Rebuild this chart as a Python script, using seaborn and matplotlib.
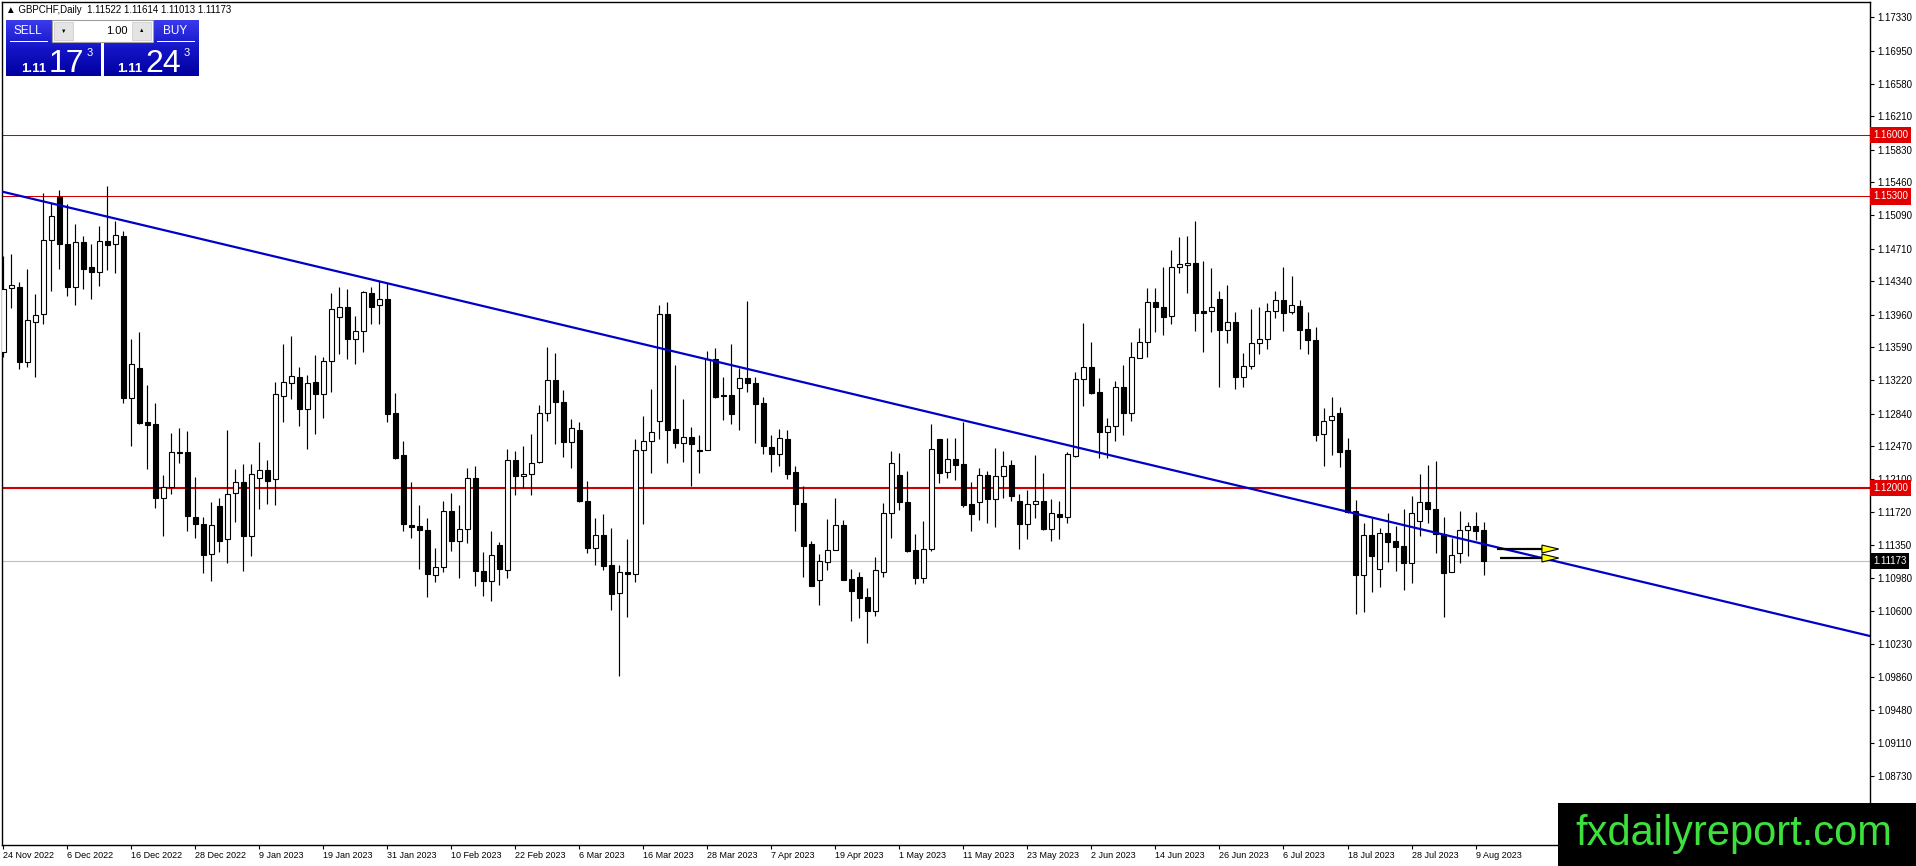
import numpy as np
import matplotlib
matplotlib.use("Agg")
import matplotlib.pyplot as plt
import seaborn as sns
from matplotlib.patches import Rectangle, Polygon
from matplotlib.colors import LinearSegmentedColormap

# GBPCHF daily, 24 Nov 2022 .. 10 Aug 2023
opens = [1.13534, 1.14259, 1.14274, 1.13428, 1.13873, 1.13964, 1.14803, 1.15294, 1.14758, 1.14278,
         1.14784, 1.14500, 1.14448, 1.14796, 1.14758, 1.14852, 1.13012, 1.13352, 1.12744, 1.12722,
         1.11887, 1.12012, 1.12400, 1.12400, 1.11672, 1.11585, 1.11245, 1.11792, 1.11415, 1.11936,
         1.12061, 1.11456, 1.12113, 1.12196, 1.12094, 1.13043, 1.13190, 1.13254, 1.12895, 1.13194,
         1.13058, 1.13432, 1.13930, 1.14043, 1.13681, 1.13775, 1.14202, 1.14066, 1.14134, 1.12842,
         1.12367, 1.11573, 1.11562, 1.11520, 1.11010, 1.11097, 1.11732, 1.11392, 1.11528, 1.12106,
         1.11052, 1.10939, 1.11347, 1.11067, 1.12310, 1.12128, 1.12151, 1.12295, 1.12842, 1.13216,
         1.12971, 1.12514, 1.12653, 1.11853, 1.11313, 1.11460, 1.11124, 1.10803, 1.11041, 1.11019,
         1.12423, 1.12525, 1.12752, 1.13964, 1.12661, 1.12502, 1.12570, 1.12423, 1.12423, 1.13462,
         1.13046, 1.13046, 1.13126, 1.13239, 1.13183, 1.12956, 1.12461, 1.12378, 1.12552, 1.12174,
         1.11826, 1.11361, 1.10950, 1.11161, 1.11290, 1.11573, 1.10961, 1.10988, 1.10757, 1.10606,
         1.11048, 1.11709, 1.12144, 1.11838, 1.11290, 1.10980, 1.11301, 1.12552, 1.12174, 1.12325,
         1.12269, 1.11815, 1.11841, 1.12144, 1.11875, 1.12128, 1.12257, 1.11849, 1.11592, 1.11811,
         1.11845, 1.11535, 1.11698, 1.11671, 1.12363, 1.13228, 1.13364, 1.13080, 1.12635, 1.12695,
         1.13137, 1.12850, 1.13466, 1.13647, 1.14100, 1.14044, 1.13949, 1.14497, 1.14519, 1.14546,
         1.13998, 1.13998, 1.14138, 1.13790, 1.13873, 1.13258, 1.13379, 1.13636, 1.13681, 1.13998,
         1.14127, 1.13987, 1.14059, 1.13798, 1.13673, 1.12604, 1.12763, 1.12850, 1.12427, 1.11736,
         1.11015, 1.11460, 1.11075, 1.11483, 1.11396, 1.11339, 1.11150, 1.11619, 1.11834, 1.11755,
         1.11472, 1.11041, 1.11256, 1.11517, 1.11562, 1.11522]
highs = [1.14625, 1.14648, 1.14331, 1.14478, 1.14194, 1.15343, 1.15241, 1.15373, 1.15212, 1.14988,
         1.14852, 1.14762, 1.14962, 1.15423, 1.15022, 1.14909, 1.13685, 1.13764, 1.13163, 1.12956,
         1.12144, 1.12616, 1.12672, 1.12642, 1.12125, 1.11672, 1.11834, 1.11879, 1.12653, 1.12212,
         1.12265, 1.12265, 1.12518, 1.12314, 1.13197, 1.13628, 1.13719, 1.13371, 1.13280, 1.13500,
         1.13477, 1.14206, 1.14274, 1.14248, 1.13945, 1.14228, 1.14274, 1.14338, 1.14315, 1.13069,
         1.12525, 1.12061, 1.11804, 1.11653, 1.11313, 1.11849, 1.11940, 1.11804, 1.12223, 1.12246,
         1.11267, 1.11509, 1.11381, 1.12442, 1.12412, 1.12468, 1.12604, 1.12937, 1.13598, 1.13522,
         1.13103, 1.12774, 1.12741, 1.12076, 1.11656, 1.11701, 1.11543, 1.11124, 1.11419, 1.12548,
         1.12812, 1.13118, 1.14066, 1.14100, 1.13386, 1.13005, 1.12688, 1.12593, 1.13545, 1.13579,
         1.13250, 1.13624, 1.13352, 1.14112, 1.13258, 1.13031, 1.12597, 1.12661, 1.12654, 1.12246,
         1.12019, 1.11392, 1.11245, 1.11645, 1.11887, 1.11634, 1.11078, 1.11041, 1.10867, 1.11211,
         1.11826, 1.12415, 1.12397, 1.12189, 1.11475, 1.11622, 1.12721, 1.12552, 1.12559, 1.12567,
         1.12741, 1.12068, 1.12227, 1.12185, 1.12446, 1.12416, 1.12314, 1.11924, 1.11970, 1.12370,
         1.12166, 1.11868, 1.11849, 1.12408, 1.13315, 1.13862, 1.13651, 1.13239, 1.12786, 1.13209,
         1.13386, 1.13647, 1.13806, 1.14259, 1.14259, 1.14505, 1.14693, 1.14844, 1.14852, 1.15022,
         1.14569, 1.14485, 1.14232, 1.14297, 1.13990, 1.13522, 1.14025, 1.14044, 1.14096, 1.14232,
         1.14497, 1.14398, 1.14127, 1.13990, 1.13824, 1.12899, 1.13031, 1.12914, 1.12559, 1.11861,
         1.11596, 1.11660, 1.11540, 1.11717, 1.11566, 1.11755, 1.11906, 1.12155, 1.12257, 1.12306,
         1.11672, 1.11426, 1.11736, 1.11615, 1.11725, 1.11614]
lows = [1.13477, 1.14040, 1.13345, 1.13371, 1.13258, 1.13851, 1.14230, 1.14482, 1.14176, 1.14070,
        1.14251, 1.14138, 1.14289, 1.14466, 1.14436, 1.12963, 1.12476, 1.12718, 1.12207, 1.11766,
        1.11456, 1.11924, 1.12283, 1.11513, 1.11427, 1.11029, 1.10946, 1.11267, 1.11143, 1.11615,
        1.11060, 1.11230, 1.11762, 1.11815, 1.11804, 1.12744, 1.13001, 1.12703, 1.12438, 1.12604,
        1.12793, 1.13088, 1.13518, 1.13455, 1.13398, 1.13533, 1.13851, 1.13858, 1.12748, 1.12321,
        1.11509, 1.11433, 1.11078, 1.10757, 1.10927, 1.11041, 1.11286, 1.10973, 1.11369, 1.10889,
        1.10776, 1.10720, 1.10893, 1.10980, 1.11921, 1.12000, 1.11921, 1.12276, 1.12759, 1.12491,
        1.12344, 1.12219, 1.11840, 1.11256, 1.11124, 1.11071, 1.10614, 1.09870, 1.10531, 1.10935,
        1.11585, 1.12170, 1.12548, 1.12276, 1.12453, 1.12295, 1.12023, 1.12170, 1.12423, 1.13020,
        1.12763, 1.12718, 1.12650, 1.13080, 1.12502, 1.12378, 1.12182, 1.12249, 1.12098, 1.11513,
        1.10992, 1.10889, 1.10674, 1.11067, 1.11290, 1.10958, 1.10493, 1.10527, 1.10236, 1.10546,
        1.10984, 1.11433, 1.11747, 1.11275, 1.10905, 1.10916, 1.11282, 1.12057, 1.12113, 1.12083,
        1.11785, 1.11513, 1.11634, 1.11604, 1.11558, 1.11887, 1.11845, 1.11303, 1.11422, 1.11660,
        1.11520, 1.11400, 1.11422, 1.11603, 1.12348, 1.12925, 1.13058, 1.12332, 1.12332, 1.12533,
        1.12601, 1.12759, 1.13466, 1.13477, 1.13768, 1.13730, 1.13855, 1.14437, 1.14210, 1.13779,
        1.13541, 1.13768, 1.13144, 1.13636, 1.13122, 1.13137, 1.13341, 1.13515, 1.13575, 1.13919,
        1.13779, 1.13964, 1.13567, 1.13511, 1.12533, 1.12250, 1.12374, 1.12230, 1.11717, 1.10565,
        1.10591, 1.10822, 1.10879, 1.11154, 1.11060, 1.10841, 1.10924, 1.11456, 1.11596, 1.11256,
        1.10539, 1.11041, 1.11150, 1.11230, 1.11407, 1.11013]
closes = [1.14247, 1.14293, 1.13428, 1.13896, 1.13957, 1.14806, 1.15079, 1.14765, 1.14278, 1.14784,
          1.14482, 1.14448, 1.14796, 1.14754, 1.14860, 1.13012, 1.13398, 1.12729, 1.12714, 1.11887,
          1.12012, 1.12400, 1.12397, 1.11683, 1.11585, 1.11233, 1.11574, 1.11399, 1.11924, 1.12061,
          1.11456, 1.12151, 1.12196, 1.12079, 1.13061, 1.13194, 1.13262, 1.12895, 1.13182, 1.13065,
          1.13432, 1.14021, 1.14043, 1.13681, 1.13775, 1.14217, 1.14043, 1.14134, 1.12831, 1.12340,
          1.11584, 1.11558, 1.11517, 1.11018, 1.11097, 1.11732, 1.11392, 1.11528, 1.12106, 1.11052,
          1.10939, 1.11233, 1.11075, 1.12310, 1.12128, 1.12151, 1.12276, 1.12842, 1.13216, 1.12967,
          1.12514, 1.12672, 1.11853, 1.11320, 1.11460, 1.11116, 1.10791, 1.11041, 1.11019, 1.12423,
          1.12525, 1.12627, 1.13964, 1.12650, 1.12502, 1.12570, 1.12491, 1.12412, 1.13462, 1.13031,
          1.13035, 1.12831, 1.13239, 1.13183, 1.12944, 1.12468, 1.12385, 1.12559, 1.12159, 1.11819,
          1.11343, 1.10889, 1.11165, 1.11290, 1.11573, 1.10958, 1.10829, 1.10754, 1.10606, 1.11063,
          1.11709, 1.12276, 1.11841, 1.11283, 1.10980, 1.11301, 1.12434, 1.12170, 1.12321, 1.12257,
          1.11808, 1.11706, 1.12140, 1.11875, 1.12128, 1.12245, 1.11909, 1.11592, 1.11811, 1.11845,
          1.11528, 1.11709, 1.11671, 1.12378, 1.13228, 1.13364, 1.13077, 1.12635, 1.12695, 1.13137,
          1.12850, 1.13477, 1.13647, 1.14100, 1.14044, 1.13938, 1.14497, 1.14531, 1.14546, 1.13983,
          1.13983, 1.14051, 1.13790, 1.13873, 1.13258, 1.13379, 1.13636, 1.13681, 1.13998, 1.14123,
          1.13983, 1.14066, 1.13790, 1.13677, 1.12601, 1.12755, 1.12808, 1.12408, 1.11728, 1.11015,
          1.11460, 1.11230, 1.11483, 1.11388, 1.11332, 1.11150, 1.11710, 1.11834, 1.11755, 1.11472,
          1.11030, 1.11234, 1.11517, 1.11562, 1.11513, 1.11173]

date_labels = ["24 Nov 2022", "6 Dec 2022", "16 Dec 2022", "28 Dec 2022", "9 Jan 2023",
               "19 Jan 2023", "31 Jan 2023", "10 Feb 2023", "22 Feb 2023", "6 Mar 2023",
               "16 Mar 2023", "28 Mar 2023", "7 Apr 2023", "19 Apr 2023", "1 May 2023",
               "11 May 2023", "23 May 2023", "2 Jun 2023", "14 Jun 2023", "26 Jun 2023",
               "6 Jul 2023", "18 Jul 2023", "28 Jul 2023", "9 Aug 2023"]
price_ticks = [1.17330, 1.16950, 1.16580, 1.16210, 1.15830, 1.15460, 1.15090, 1.14710,
               1.14340, 1.13960, 1.13590, 1.13220, 1.12840, 1.12470, 1.12100, 1.11720,
               1.11350, 1.10980, 1.10600, 1.10230, 1.09860, 1.09480, 1.09110, 1.08730]

levels = [1.16000, 1.15300, 1.12000]
level_widths = [1.0, 1.0, 2.0]
last_price = 1.11173

trend_bars = [0, 185]
trend_prices = [1.15352, 1.11361]

arrow_start = [186.7, 187.0]
arrow_prices = [1.11305, 1.11203]
arrow_shaft_end = 192.3
arrow_tip = 194.4

W, H = 1916, 866
sns.set_theme(style="white")
plt.rcParams['font.family'] = ['Liberation Sans', 'DejaVu Sans']

fig = plt.figure(figsize=(W / 100, H / 100), dpi=100)
fig.patch.set_facecolor("white")
ax = fig.add_axes([2 / W, 21 / H, 1868 / W, 843 / H])
ax.set_facecolor("white")

o = np.array(opens); h = np.array(highs); l = np.array(lows); c = np.array(closes)
bars = np.arange(len(o))
up = c >= o

# horizontal levels and current price
for lv, lw in zip(levels, level_widths):
    ax.axhline(lv, color="#d00000", lw=lw * 0.75, zorder=1)
ax.axhline(last_price, color="#c0c0c0", lw=0.8, zorder=1)

# candles
ax.vlines(bars, l, h, color="black", lw=0.85, zorder=3)
body_lo = np.minimum(o, c)
body_h = np.maximum(np.abs(c - o), 0.00003)
ax.bar(bars, body_h, bottom=body_lo, width=0.62,
       color=np.where(up, "white", "black"), edgecolor="black", linewidth=0.8, zorder=4)

# trend line
ax.axline((trend_bars[0], trend_prices[0]), (trend_bars[1], trend_prices[1]),
          color="#0000c8", lw=1.6, zorder=5)

# arrows
head = 0.00045
for xs, yp in zip(arrow_start, arrow_prices):
    ax.plot([xs, arrow_shaft_end], [yp, yp], color="black", lw=1.6, zorder=6, solid_capstyle="butt")
    ax.add_patch(Polygon([[arrow_shaft_end, yp - head], [arrow_shaft_end, yp + head], [arrow_tip, yp]],
                         closed=True, fc="#ffff00", ec="black", lw=0.8, zorder=7))

ax.set_xlim(-0.16, 233.3)
ax.set_ylim(1.07951, 1.17504)

# axes styling
for s in ax.spines.values():
    s.set_color("black")
    s.set_linewidth(1.0)
ax.yaxis.tick_right()
ax.set_yticks(price_ticks)
ax.set_yticklabels([f"{p:.5f}" for p in price_ticks])
ax.tick_params(axis="y", which="both", right=True, left=False, length=3, width=0.8,
               pad=2, labelsize=7, colors="black")
ax.set_xticks(np.arange(len(date_labels)) * 8)
ax.set_xticklabels(date_labels)
for t in ax.get_xticklabels():
    t.set_horizontalalignment("left")
ax.tick_params(axis="x", bottom=True, length=3, width=0.8, pad=1, labelsize=6.5, colors="black")
ax.grid(False)

# highlighted price labels
ytr = ax.get_yaxis_transform()
for lv in levels:
    ax.text(1.0016, lv, f"{lv:.5f}", transform=ytr, ha="left", va="center", fontsize=7,
            color="white", zorder=10, clip_on=False,
            bbox=dict(boxstyle="square,pad=0.32", fc="#e00000", ec="none"))
ax.text(1.0016, last_price, f"{last_price:.5f}", transform=ytr, ha="left", va="center", fontsize=7,
        color="white", zorder=10, clip_on=False,
        bbox=dict(boxstyle="square,pad=0.32", fc="black", ec="none"))


def fig_rect(x0, y0, x1, y1, **kw):
    fig.patches.append(Rectangle((x0 / W, 1 - y1 / H), (x1 - x0) / W, (y1 - y0) / H,
                                 transform=fig.transFigure, **kw))


def fig_text(x, y, s, **kw):
    fig.text(x / W, 1 - y / H, s, **kw)


def gradient_box(x0, y0, x1, y1):
    gax = fig.add_axes([x0 / W, 1 - y1 / H, (x1 - x0) / W, (y1 - y0) / H])
    cmap = LinearSegmentedColormap.from_list("panel", ["#3a3aec", "#1515c8", "#0000a0"])
    gax.imshow(np.linspace(0, 1, 50).reshape(-1, 1), aspect="auto", cmap=cmap,
               extent=[0, 1, 0, 1], origin="upper")
    gax.set_axis_off()
    return gax


# header
fig_text(6, 10, "\u25b2 GBPCHF,Daily  1.11522 1.11614 1.11013 1.11173", fontsize=7,
         color="black", ha="left", va="center")

# one-click trading panel
gradient_box(6, 20, 101, 76)
gradient_box(104, 20, 199, 76)
fig_rect(52, 20, 153, 42, fc="white", ec="#a0a0a0", lw=0.8, zorder=20)
fig_rect(54, 22, 73, 40, fc="#e4e4e4", ec="#c8c8c8", lw=0.5, zorder=21)
fig_rect(132, 22, 151, 40, fc="#e4e4e4", ec="#c8c8c8", lw=0.5, zorder=21)
fig_text(63.5, 31, "\u25bc", fontsize=4, color="black", ha="center", va="center", zorder=22)
fig_text(141.5, 31, "\u25b2", fontsize=4, color="black", ha="center", va="center", zorder=22)
fig_text(128, 31, "1.00", fontsize=8, color="black", ha="right", va="center", zorder=22)
fig_rect(10, 41.5, 48, 42.3, fc="white", ec="none", zorder=22)
fig_rect(157, 41.5, 195, 42.3, fc="white", ec="none", zorder=22)
fig_text(28, 31, "SELL", fontsize=8.5, color="white", ha="center", va="center", zorder=22)
fig_text(175, 31, "BUY", fontsize=8.5, color="white", ha="center", va="center", zorder=22)
for x_small, x_big, x_sup, big in [(21, 49, 86.5, "17"), (117, 145, 183.5, "24")]:
    fig_text(x_small, 72, "1.11", fontsize=9.5, fontweight="bold", color="white",
             ha="left", va="baseline", zorder=22)
    fig_text(x_big, 72, big, fontsize=23, color="white", ha="left", va="baseline", zorder=22)
    fig_text(x_sup, 56, "3", fontsize=8, color="white", ha="left", va="baseline", zorder=22)

# watermark
fig_rect(1558, 803, 1916, 866, fc="black", ec="none", zorder=30)
fig_text(1575, 845, "fxdailyreport.com", fontsize=30, color="#3ee03e", ha="left",
         va="baseline", zorder=31)

fig.savefig("out.png", dpi=100)
